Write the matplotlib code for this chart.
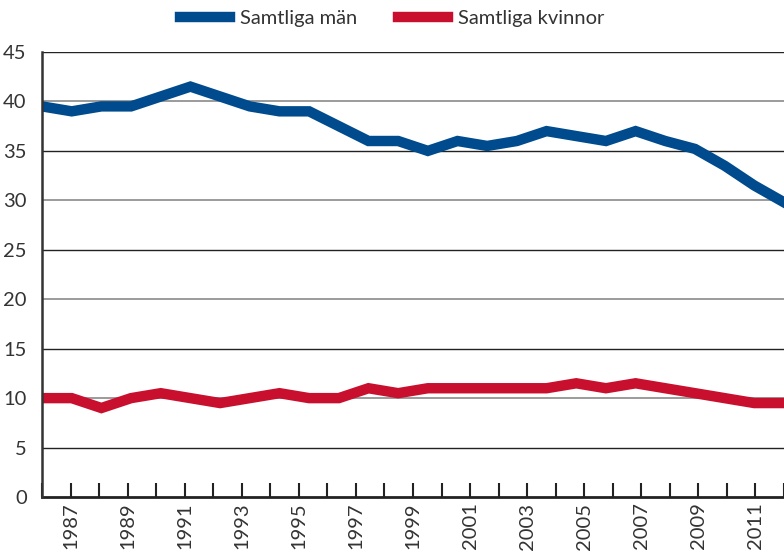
import matplotlib
matplotlib.use("Agg")
import matplotlib.pyplot as plt
import numpy as np

plt.rcParams['font.family'] = ['Lato', 'DejaVu Sans']

# one value per year, 1986-2011
years = list(range(1986, 2012))
man = [39.5, 39.0, 39.5, 39.5, 40.5, 41.5, 40.5, 39.5, 39.0, 39.0,
       37.5, 36.0, 36.0, 35.0, 36.0, 35.5, 36.0, 37.0, 36.5, 36.0,
       37.0, 36.0, 35.2, 33.5, 31.5, 29.8]
kvinnor = [10.0, 10.0, 9.0, 10.0, 10.5, 10.0, 9.5, 10.0, 10.5, 10.0,
           10.0, 11.0, 10.5, 11.0, 11.0, 11.0, 11.0, 11.0, 11.5, 11.0,
           11.5, 11.0, 10.5, 10.0, 9.5, 9.5]
tick_years = list(range(1986, 2013))
y_ticks = [0, 5, 10, 15, 20, 25, 30, 35, 40, 45]

blue = "#004b8d"
red = "#c8102e"
txt = "#333333"

fig = plt.figure(figsize=(7.84, 5.52), dpi=100)
ax = fig.add_axes([0.0536, 0.0996, 0.9464, 0.8062])

x = np.arange(len(years))
for v in y_ticks[1:]:
    col = "#8a8a8a" if v % 10 == 0 else "#222222"
    ax.axhline(v, color=col, lw=1.2 if v % 10 == 0 else 1.0, zorder=1)

ax.plot(x, man, color=blue, lw=7.5, label="Samtliga män", zorder=3,
        solid_joinstyle="miter")
ax.plot(x, kvinnor, color=red, lw=7.5, label="Samtliga kvinnor", zorder=3,
        solid_joinstyle="miter")

ax.set_xlim(0, len(years) - 1)
ax.set_ylim(0, 45)
ax.set_yticks(y_ticks)
ax.set_yticklabels([str(v) for v in y_ticks], fontsize=14.5, color=txt)
ax.tick_params(axis="y", length=0, pad=11)

# axis categories run one year further than the data
tpos = np.linspace(0, len(years) - 1, len(tick_years))
ax.set_xticks(tpos)
ax.set_xticklabels([str(t) if t % 2 == 1 else "" for t in tick_years],
                   rotation=90, fontsize=14.5, color=txt)
ax.tick_params(axis="x", direction="in", length=10, width=1.5, color="#222222", pad=4)

for s in ["top", "right"]:
    ax.spines[s].set_visible(False)
ax.spines["left"].set_color("#333333")
ax.spines["left"].set_linewidth(1.8)
ax.spines["bottom"].set_color("#222222")
ax.spines["bottom"].set_linewidth(2.0)
ax.spines["left"].set_zorder(4)

fig.legend(loc="center", bbox_to_anchor=(0.5, 0.967), ncol=2, frameon=False,
           fontsize=14.5, handlelength=2.5, handletextpad=0.5, columnspacing=2.0,
           labelcolor=txt)

plt.savefig("out.png", dpi=100)
